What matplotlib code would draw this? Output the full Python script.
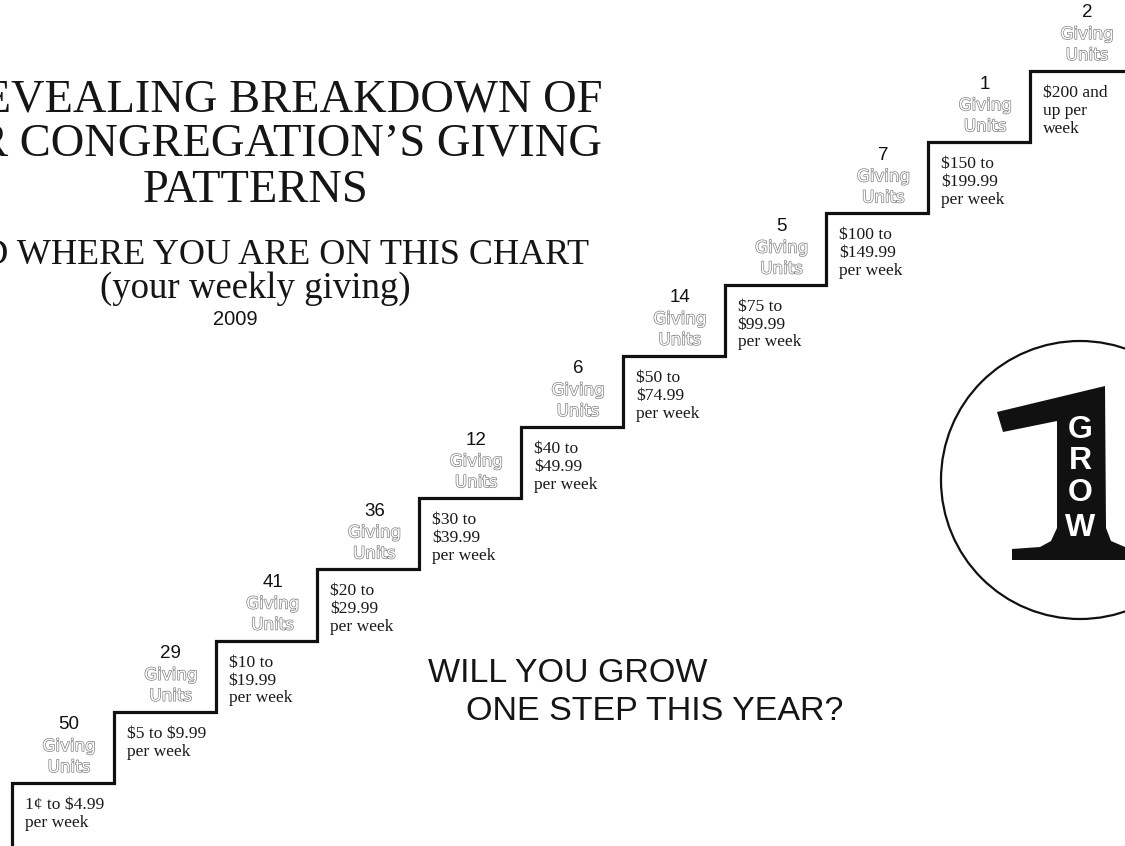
import matplotlib
matplotlib.use("Agg")
import matplotlib.pyplot as plt
import matplotlib.patheffects as pe
from matplotlib.patches import Circle, Polygon
import numpy as np

# ---------------- data ----------------
ranges = [
    "1\u00a2 to \\$4.99\nper week",
    "\\$5 to \\$9.99\nper week",
    "\\$10 to\n\\$19.99\nper week",
    "\\$20 to\n\\$29.99\nper week",
    "\\$30 to\n\\$39.99\nper week",
    "\\$40 to\n\\$49.99\nper week",
    "\\$50 to\n\\$74.99\nper week",
    "\\$75 to\n\\$99.99\nper week",
    "\\$100 to\n\\$149.99\nper week",
    "\\$150 to\n\\$199.99\nper week",
    "\\$200 and\nup per\nweek",
]
counts = [50, 29, 41, 36, 12, 6, 14, 5, 7, 1, 2]
step_levels = [0, 1, 2, 3, 4, 5, 6, 7, 8, 9, 10]
unit_label = "Giving\nUnits"

title_lines = ["A REVEALING BREAKDOWN OF", "OUR CONGREGATION\u2019S GIVING", "PATTERNS"]
subtitle = "FIND WHERE YOU ARE ON THIS CHART"
subtitle2 = "(your weekly giving)"
year = "2009"
question = ["WILL YOU GROW", "ONE STEP THIS YEAR?"]
logo_letters = ["G", "R", "O", "W"]

SERIF = "Liberation Serif"
SANS = "Liberation Sans"

fig = plt.figure(figsize=(11.25, 8.46), dpi=100)
fig.patch.set_facecolor("white")

# ---------------- staircase (data axes) ----------------
ax = fig.add_axes([0, 0, 1, 1])
ax.set_xlim(-0.118, 10.933)
ax.set_ylim(-0.885, 10.997)
ax.axis("off")

edges = np.arange(len(step_levels) + 1)
ax.stairs(step_levels, edges, baseline=-3, fill=False, color="#111111", lw=2.3)

outline = [pe.Stroke(linewidth=1.0, foreground="#808080"), pe.Normal()]
g, u = unit_label.split("\n")
for i, (lvl, rng, cnt) in enumerate(zip(step_levels, ranges, counts)):
    ax.annotate(rng, xy=(i, lvl), xytext=(13, -14), textcoords="offset pixels",
                ha="left", va="top", fontsize=12.6, family=SERIF,
                color="#1a1a1a", linespacing=1.16)
    cx = i + 0.56
    ax.annotate(str(cnt), xy=(cx, lvl), xytext=(0, 58), textcoords="offset pixels",
                ha="center", va="center", fontsize=13.5, family=SANS, color="#111111")
    ax.annotate(g, xy=(cx, lvl), xytext=(0, 37), textcoords="offset pixels",
                ha="center", va="center", fontsize=12, family="DejaVu Sans",
                color="white", path_effects=outline)
    ax.annotate(u, xy=(cx, lvl), xytext=(0, 16), textcoords="offset pixels",
                ha="center", va="center", fontsize=12, family="DejaVu Sans",
                color="white", path_effects=outline)

# ---------------- pixel overlay for titles & logo ----------------
axp = fig.add_axes([0, 0, 1, 1], zorder=-1)
axp.set_xlim(0, 1125)
axp.set_ylim(846, 0)
axp.axis("off")

tc = "#151515"
axp.text(256, 111, title_lines[0], ha="center", va="baseline", fontsize=33.5, family=SERIF, color=tc)
axp.text(256, 156, title_lines[1], ha="center", va="baseline", fontsize=33.5, family=SERIF, color=tc)
axp.text(256, 202, title_lines[2], ha="center", va="baseline", fontsize=33.5, family=SERIF, color=tc)
axp.text(256, 264, subtitle, ha="center", va="baseline", fontsize=26, family=SERIF, color=tc)
axp.text(255, 298, subtitle2, ha="center", va="baseline", fontsize=26.5, family=SERIF, color=tc)
axp.text(235, 325, year, ha="center", va="baseline", fontsize=14.5, family=SANS, color=tc)

axp.text(428, 682, question[0], ha="left", va="baseline", fontsize=24.5, family=SANS, color=tc)
axp.text(466, 720, question[1], ha="left", va="baseline", fontsize=24.5, family=SANS, color=tc)

# logo
axp.add_patch(Circle((1080, 480), 139, fill=False, lw=1.6, ec="#111111"))
one = [(997, 412), (1105, 386), (1106, 528), (1111, 541), (1125, 547), (1125, 560),
       (1012, 560), (1012, 549), (1040, 547), (1051, 541), (1057, 528), (1057, 421),
       (1003, 432)]
axp.add_patch(Polygon(one, closed=True, fc="#111111", ec="none"))
for ly, letter in zip([430, 461, 493, 528], logo_letters):
    axp.text(1080, ly, letter, ha="center", va="center", fontsize=23, family=SANS,
             weight="bold", color="white")

fig.savefig("out.png", dpi=100)
